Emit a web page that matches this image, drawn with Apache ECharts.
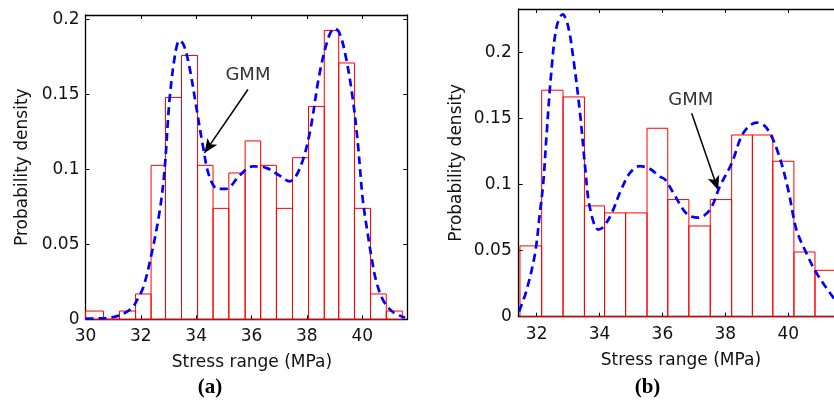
<!DOCTYPE html>
<html><head><meta charset="utf-8">
<script src="https://cdn.jsdelivr.net/npm/echarts@6/dist/echarts.min.js"></script>
<style>html,body{margin:0;padding:0;background:#fff}#c{width:834px;height:406px}</style>
</head><body><div id="c"></div>
<script>
// ---------- data ----------
const edgesA = [30.0, 30.65, 31.23, 31.81, 32.37, 32.89, 33.47, 34.05, 34.61, 35.18, 35.77, 36.33, 36.90, 37.48, 38.06, 38.63, 39.15, 39.72, 40.30, 40.87, 41.45];
const densA  = [0.0055, 0.0, 0.0055, 0.0169, 0.1027, 0.148, 0.176, 0.1027, 0.074, 0.0976, 0.119, 0.1027, 0.074, 0.1078, 0.142, 0.1927, 0.171, 0.074, 0.0169, 0.0055];
const gmmA = [[30.0,0.0005],[30.5,0.0006],[31.0,0.0015],[31.4,0.004],[31.7,0.008],[31.9,0.014],[32.1,0.022],[32.37,0.042],[32.67,0.071],[32.85,0.098],[33.04,0.147],[33.25,0.178],[33.4,0.186],[33.55,0.183],[33.76,0.168],[34.0,0.142],[34.24,0.116],[34.48,0.095],[34.78,0.087],[35.08,0.087],[35.57,0.096],[36.05,0.102],[36.53,0.101],[37.0,0.096],[37.37,0.092],[37.73,0.1],[38.1,0.124],[38.46,0.164],[38.8,0.189],[39.0,0.194],[39.18,0.191],[39.42,0.174],[39.66,0.147],[39.84,0.118],[40.02,0.08],[40.2,0.057],[40.33,0.042],[40.5,0.026],[40.75,0.013],[41.1,0.005],[41.55,0.001]];

const edgesB = [31.47, 32.16, 32.84, 33.52, 34.16, 34.83, 35.51, 36.17, 36.84, 37.52, 38.20, 38.86, 39.51, 40.18, 40.85, 41.55];
const densB  = [0.0536, 0.1715, 0.1664, 0.0839, 0.0786, 0.0786, 0.1427, 0.0887, 0.0687, 0.0887, 0.1376, 0.1376, 0.1177, 0.049, 0.0351];
const gmmB = [[31.44,0.004],[31.68,0.020],[31.95,0.048],[32.1,0.078],[32.21,0.101],[32.32,0.139],[32.48,0.189],[32.64,0.220],[32.83,0.229],[33.0,0.220],[33.17,0.195],[33.38,0.154],[33.54,0.114],[33.69,0.083],[33.96,0.066],[34.12,0.068],[34.38,0.078],[34.65,0.094],[34.97,0.109],[35.28,0.114],[35.6,0.112],[35.92,0.106],[36.08,0.104],[36.34,0.094],[36.77,0.078],[37.14,0.075],[37.51,0.081],[37.83,0.099],[38.2,0.116],[38.57,0.139],[38.99,0.147],[39.31,0.143],[39.68,0.124],[40.0,0.096],[40.26,0.066],[40.58,0.048],[40.9,0.033],[41.45,0.014],[41.7,0.008]];

const xTicksA = [30, 32, 34, 36, 38, 40];
const xTicksB = [32, 34, 36, 38, 40];
const yTicks  = [0, 0.05, 0.1, 0.15, 0.2];
const panelLabels = ['(a)', '(b)'];
const xTitle = 'Stress range (MPa)';
const yTitle = 'Probability density';
const annoText = 'GMM';
// annotation anchor points in data coordinates
const arrowA = [[35.87, 0.1533], [34.30, 0.111]];
const textA  = [35.87, 0.163];
const arrowB = [[36.93, 0.1541], [37.77, 0.096]];
const textB  = [36.90, 0.164];

// ---------- chart ----------
const FONT = 'DejaVu Sans';
const chart = echarts.init(document.getElementById('c'), null, {renderer: 'canvas'});

function histData(edges, dens) {
  return dens.map((d, i) => [edges[i], edges[i + 1], d]);
}
function renderBar(params, api) {
  const p0 = api.coord([api.value(0), api.value(2)]);
  const p1 = api.coord([api.value(1), 0]);
  return {
    type: 'rect',
    shape: {x: p0[0], y: p0[1], width: p1[0] - p0[0], height: p1[1] - p0[1]},
    style: {fill: 'none', stroke: '#ff0000', lineWidth: 1}
  };
}
function xAxis(gi, min, max, ticks, pos, labels, padding) {
  return {
    type: 'value', gridIndex: gi, min: min, max: max, position: pos,
    name: labels ? xTitle : '', nameLocation: 'middle', nameGap: 35,
    nameTextStyle: {fontFamily: FONT, fontSize: 17, color: '#111', padding: padding},
    axisLine: {show: true, onZero: false, lineStyle: {color: '#000', width: 1.3}},
    axisTick: {show: true, inside: true, length: 4, customValues: ticks, lineStyle: {color: '#000'}},
    axisLabel: {show: labels, customValues: ticks, margin: 9, fontFamily: FONT, fontSize: 17, color: '#111'},
    splitLine: {show: false}
  };
}
function yAxis(gi, max, pos, labels, show, margin) {
  return {
    type: 'value', gridIndex: gi, min: 0, max: max, position: pos, show: show,
    name: labels ? yTitle : '', nameLocation: 'middle', nameGap: 54,
    nameTextStyle: {fontFamily: FONT, fontSize: 17, color: '#111'},
    axisLine: {show: true, onZero: false, lineStyle: {color: '#000', width: 1.3}},
    axisTick: {show: true, inside: true, length: 4, customValues: yTicks, lineStyle: {color: '#000'}},
    axisLabel: {show: labels, customValues: yTicks, margin: margin, fontFamily: FONT, fontSize: 17, color: '#111'},
    splitLine: {show: false}
  };
}
function gmmSeries(xi, yi, data, arrow, txt) {
  return {
    type: 'line', xAxisIndex: xi, yAxisIndex: yi, data: data, smooth: 0.35,
    showSymbol: false, symbol: 'none', z: 5,
    lineStyle: {color: '#0000ff', width: 2.7, type: [8, 5]},
    markLine: {
      silent: true, symbol: ['none', 'arrow'], symbolSize: [9, 14],
      lineStyle: {color: '#000', width: 1.5, type: 'solid'},
      label: {show: false},
      data: [[{coord: arrow[0]}, {coord: arrow[1]}]]
    },
    markPoint: {
      silent: true, symbol: 'circle', symbolSize: 0,
      label: {show: true, position: 'inside', formatter: annoText, fontFamily: FONT, fontSize: 18, color: '#333'},
      data: [{coord: txt}]
    }
  };
}

const option = {
  animation: false,
  backgroundColor: '#fff',
  title: [
    {text: panelLabels[0], left: 205, top: 372, textAlign: 'center',
     textStyle: {fontFamily: 'Liberation Serif', fontWeight: 'bold', fontSize: 21, color: '#000'}},
    {text: panelLabels[1], left: 642.5, top: 372, textAlign: 'center',
     textStyle: {fontFamily: 'Liberation Serif', fontWeight: 'bold', fontSize: 21, color: '#000'}}
  ],
  grid: [
    {left: 85.5, top: 15, width: 321.8, height: 304.3, containLabel: false},
    {left: 518.7, top: 9, right: 0, height: 307.7, containLabel: false}
  ],
  xAxis: [
    xAxis(0, 30, 41.63, xTicksA, 'bottom', true, [0, 0, 0, 11]),
    xAxis(0, 30, 41.63, xTicksA, 'top', false),
    xAxis(1, 31.43, 41.455, xTicksB, 'bottom', true, [0, 0, 0, 9]),
    xAxis(1, 31.43, 41.455, xTicksB, 'top', false)
  ],
  yAxis: [
    yAxis(0, 0.203, 'left', true, true, 6),
    yAxis(0, 0.203, 'right', false, true, 6),
    yAxis(1, 0.233, 'left', true, true, 7)
  ],
  series: [
    {type: 'custom', xAxisIndex: 0, yAxisIndex: 0, data: histData(edgesA, densA),
     encode: {x: [0, 1], y: 2}, renderItem: renderBar, z: 3, clip: false},
    gmmSeries(0, 0, gmmA, arrowA, textA),
    {type: 'custom', xAxisIndex: 2, yAxisIndex: 2, data: histData(edgesB, densB),
     encode: {x: [0, 1], y: 2}, renderItem: renderBar, z: 3, clip: false},
    gmmSeries(2, 2, gmmB, arrowB, textB)
  ]
};
chart.setOption(option);
</script>
</body></html>
